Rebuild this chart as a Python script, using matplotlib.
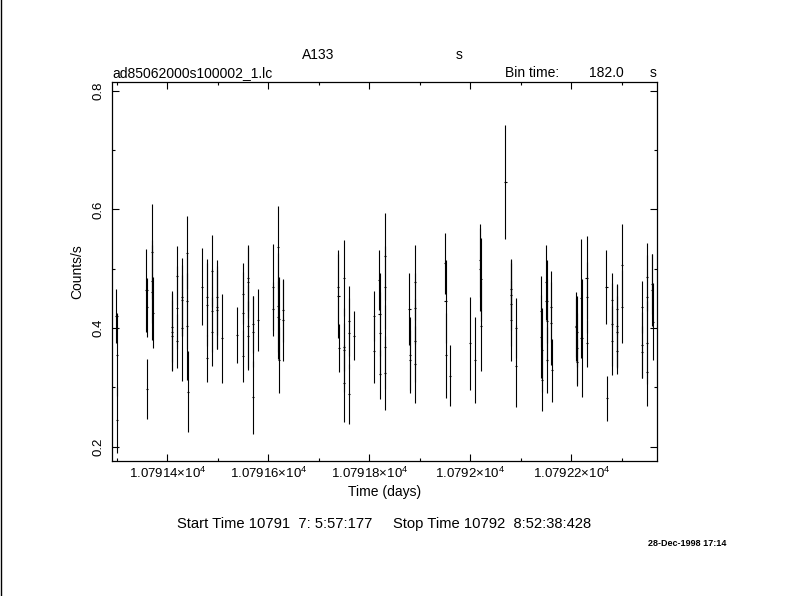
import matplotlib
matplotlib.use("Agg")
import matplotlib.pyplot as plt
from matplotlib.ticker import MultipleLocator, FuncFormatter, FormatStrFormatter
from matplotlib.lines import Line2D

# light curve (time in days, rate and 1-sigma error in counts/s)
time = [10791.2994, 10791.2998, 10791.3002,
        10791.3588, 10791.3592, 10791.3596,
        10791.3697, 10791.3701, 10791.3705, 10791.3709,
        10791.4093, 10791.4097, 10791.4101,
        10791.4192, 10791.4196, 10791.4200,
        10791.4291, 10791.4295, 10791.4299,
        10791.4390, 10791.4394, 10791.4398, 10791.4402,
        10791.4687,
        10791.4786, 10791.4790, 10791.4794,
        10791.4885, 10791.4889, 10791.4893,
        10791.4984, 10791.4988, 10791.4992,
        10791.5083,
        10791.5386,
        10791.5493, 10791.5497, 10791.5501,
        10791.5592, 10791.5596, 10791.5600, 10791.5604,
        10791.5691, 10791.5695, 10791.5699,
        10791.5796,
        10791.6093, 10791.6097,
        10791.6192, 10791.6196, 10791.6200, 10791.6204, 10791.6208,
        10791.6291, 10791.6295,
        10791.7386, 10791.7390, 10791.7394,
        10791.7493, 10791.7497, 10791.7501, 10791.7505,
        10791.7592, 10791.7596, 10791.7600,
        10791.7691,
        10791.8093, 10791.8097,
        10791.8198, 10791.8202, 10791.8206, 10791.8210,
        10791.8305, 10791.8309, 10791.8313, 10791.8317,
        10791.8796, 10791.8800, 10791.8804,
        10791.8899, 10791.8903, 10791.8907, 10791.8911,
        10791.9505, 10791.9509, 10791.9513,
        10791.9598,
        10791.9998,
        10792.0097,
        10792.0196, 10792.0200, 10792.0204, 10792.0208,
        10792.0697,
        10792.0800, 10792.0804, 10792.0808, 10792.0812,
        10792.0899, 10792.0903,
        10792.1404, 10792.1408, 10792.1412, 10792.1416,
        10792.1505, 10792.1509, 10792.1513, 10792.1517,
        10792.1602, 10792.1606, 10792.1610,
        10792.2097, 10792.2101, 10792.2105, 10792.2109, 10792.2113,
        10792.2198, 10792.2202,
        10792.2301, 10792.2305, 10792.2309,
        10792.2697, 10792.2701,
        10792.2800, 10792.2804, 10792.2808,
        10792.2899, 10792.2903, 10792.2907, 10792.2911,
        10792.2998, 10792.3002,
        10792.3394, 10792.3398, 10792.3402,
        10792.3495, 10792.3499, 10792.3503, 10792.3507,
        10792.3602, 10792.3606, 10792.3610]

rate = [0.420, 0.355, 0.245,
        0.464, 0.435, 0.297,
        0.529, 0.479, 0.460, 0.426,
        0.402, 0.394, 0.387,
        0.488, 0.434, 0.378,
        0.452, 0.447, 0.400,
        0.527, 0.445, 0.403, 0.293,
        0.470,
        0.452, 0.439, 0.349,
        0.496, 0.429, 0.394,
        0.452, 0.435, 0.431,
        0.383,
        0.388,
        0.458, 0.425, 0.353,
        0.484, 0.477, 0.403, 0.387,
        0.406, 0.394, 0.283,
        0.413,
        0.469, 0.432,
        0.536, 0.437, 0.419, 0.416, 0.346,
        0.430, 0.413,
        0.469, 0.454, 0.366,
        0.485, 0.368, 0.363, 0.307,
        0.412, 0.391, 0.289,
        0.387,
        0.420, 0.362,
        0.481, 0.423, 0.391, 0.322,
        0.521, 0.469, 0.368, 0.324,
        0.432, 0.355, 0.346,
        0.477, 0.433, 0.379, 0.339,
        0.509, 0.445, 0.354,
        0.320,
        0.374,
        0.346,
        0.514, 0.499, 0.482, 0.403,
        0.646,
        0.465, 0.456, 0.440, 0.413,
        0.400, 0.336,
        0.428, 0.385, 0.363, 0.312,
        0.477, 0.445, 0.412, 0.346,
        0.436, 0.408, 0.329,
        0.403, 0.401, 0.394, 0.366, 0.342,
        0.450, 0.383,
        0.485, 0.452, 0.374,
        0.469, 0.282,
        0.447, 0.406, 0.379,
        0.432, 0.403, 0.394, 0.362,
        0.506, 0.436,
        0.436, 0.371, 0.359,
        0.486, 0.453, 0.375, 0.326,
        0.474, 0.464, 0.411]

error = [0.045, 0.070, 0.055,
         0.070, 0.050, 0.050,
         0.080, 0.070, 0.080, 0.060,
         0.060, 0.065, 0.060,
         0.050, 0.070, 0.045,
         0.066, 0.060, 0.090,
         0.062, 0.080, 0.090, 0.069,
         0.065,
         0.065, 0.070, 0.040,
         0.060, 0.070, 0.058,
         0.063, 0.070, 0.066,
         0.075,
         0.047,
         0.052, 0.070, 0.044,
         0.056, 0.060, 0.070, 0.058,
         0.048, 0.060, 0.062,
         0.052,
         0.073, 0.045,
         0.070, 0.090, 0.060, 0.070, 0.055,
         0.053, 0.068,
         0.062, 0.070, 0.040,
         0.064, 0.041, 0.070, 0.065,
         0.059, 0.060, 0.050,
         0.041,
         0.042, 0.055,
         0.050, 0.070, 0.070, 0.041,
         0.073, 0.070, 0.070, 0.062,
         0.061, 0.064, 0.050,
         0.063, 0.060, 0.070, 0.065,
         0.052, 0.070, 0.072,
         0.052,
         0.078,
         0.072,
         0.061, 0.070, 0.070, 0.076,
         0.096,
         0.050, 0.060, 0.070, 0.068,
         0.051, 0.069,
         0.060, 0.070, 0.070, 0.051,
         0.063, 0.070, 0.070, 0.055,
         0.060, 0.070, 0.053,
         0.058, 0.050, 0.060, 0.060, 0.039,
         0.100, 0.100,
         0.070, 0.060, 0.039,
         0.063, 0.038,
         0.046, 0.070, 0.058,
         0.042, 0.070, 0.060, 0.040,
         0.069, 0.062,
         0.044, 0.056, 0.044,
         0.058, 0.070, 0.070, 0.057,
         0.051, 0.060, 0.065]

bin_time = 182.0
half_bin = bin_time / 2 / 86400.0
t_start = 10791.2899
t_stop = 10792.3697

plt.rcParams['font.family'] = ['Liberation Sans', 'DejaVu Sans']
plt.rcParams['mathtext.fontset'] = 'custom'
plt.rcParams['mathtext.rm'] = 'Liberation Sans'
plt.rcParams['mathtext.it'] = 'Liberation Sans'

W, H = 790, 596
fig = plt.figure(figsize=(W / 100, H / 100), dpi=100)
ax = fig.add_axes([111.7 / W, 1 - 461 / H, (657 - 111.7) / W, (461 - 82.3) / H])

# vertical error bars, then the horizontal bin-width marks at each rate
ax.errorbar(time, rate, yerr=error, fmt='none',
            ecolor='black', elinewidth=0.8, capsize=0)
ax.errorbar(time, rate, xerr=2 * half_bin, fmt='none',
            ecolor='black', elinewidth=0.8, capsize=0)

ax.set_xlim(t_start, t_stop)
ax.set_ylim(0.1759, 0.8142)

for s in ax.spines.values():
    s.set_linewidth(0.9)

ax.xaxis.set_major_locator(MultipleLocator(0.2))
ax.xaxis.set_minor_locator(MultipleLocator(0.1))
ax.yaxis.set_major_locator(MultipleLocator(0.2))
ax.yaxis.set_minor_locator(MultipleLocator(0.1))
ax.xaxis.set_major_formatter(FuncFormatter(lambda v, p: f'{v / 1e4:.6g}×$10^{{4}}$'))
ax.yaxis.set_major_formatter(FormatStrFormatter('%.1f'))

ax.tick_params(which='both', direction='in', top=True, right=True, width=0.8)
ax.tick_params(which='major', length=4.8)
ax.tick_params(which='minor', length=2.4)
ax.tick_params(axis='x', labelsize=9.5, pad=3.6)
ax.tick_params(axis='y', labelsize=9.5, pad=5.0, labelrotation=90)
for lab in ax.get_yticklabels():
    lab.set_va('center')

ax.set_xlabel('Time (days)', fontsize=10, labelpad=3)
ax.set_ylabel('Counts/s', fontsize=10, labelpad=6)


def ftext(x, y, s, **kw):
    fig.text(x / W, 1 - y / H, s, **kw)


ftext(318, 55, 'A133', ha='center', va='center', fontsize=10)
ftext(459, 55, 's', ha='center', va='center', fontsize=10)
ftext(112, 73, 'ad85062000s100002_1.lc', ha='left', va='center', fontsize=10)
ftext(505, 73, 'Bin time:', ha='left', va='center', fontsize=10)
ftext(624, 73, '182.0', ha='right', va='center', fontsize=10)
ftext(657, 73, 's', ha='right', va='center', fontsize=10)
ftext(384, 524, 'Start Time 10791  7: 5:57:177     Stop Time 10792  8:52:38:428',
      ha='center', va='center', fontsize=10.6)
ftext(687, 544, '28-Dec-1998 17:14', ha='center', va='center', fontsize=6.5,
      fontweight='bold')

# frame line along the left edge of the page
fig.add_artist(Line2D([0.0015, 0.0015], [0, 1], transform=fig.transFigure,
                      color='black', linewidth=1.0))

fig.savefig('out.png', dpi=100, facecolor='white')
